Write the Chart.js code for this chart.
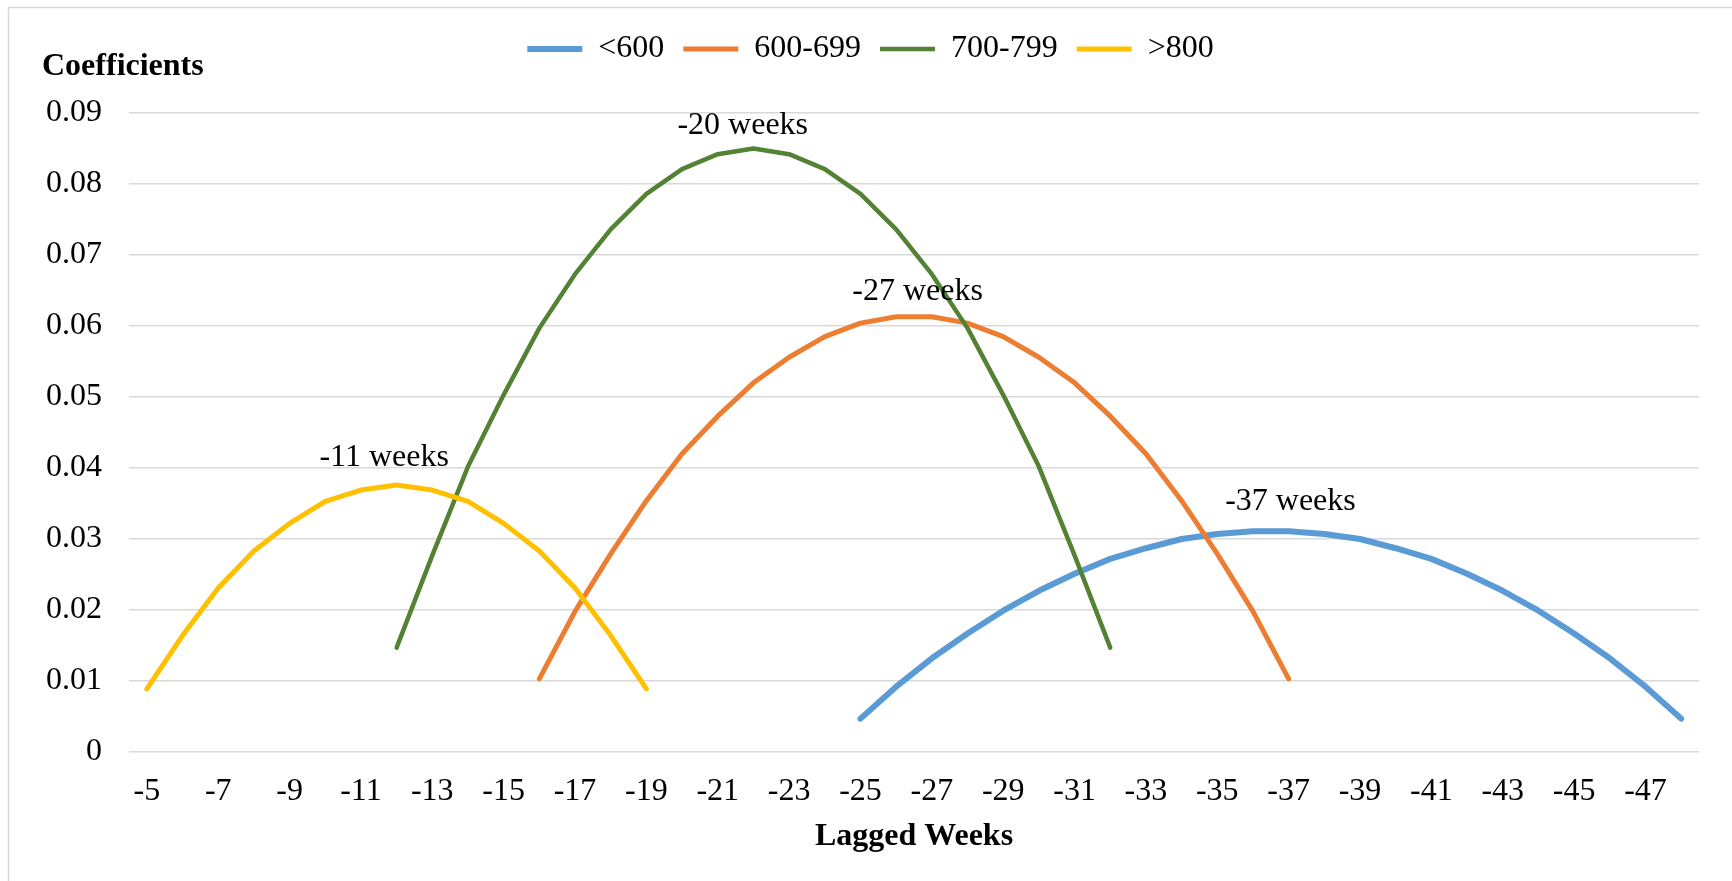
<!DOCTYPE html>
<html>
<head>
<meta charset="utf-8">
<title>Lagged weeks coefficients</title>
<script src="https://cdn.jsdelivr.net/npm/chart.js@4.4.1/dist/chart.umd.min.js"></script>
<style>
  html, body { margin: 0; padding: 0; background: #fff; }
  #wrap { width: 1732px; height: 881px; }
</style>
</head>
<body>
<div id="wrap"><canvas id="lagChart" width="1732" height="881"></canvas></div>
<script>
// categories: lagged weeks
const weeks = [-5, -6, -7, -8, -9, -10, -11, -12, -13, -14, -15, -16, -17, -18, -19, -20,
  -21, -22, -23, -24, -25, -26, -27, -28, -29, -30, -31, -32, -33, -34, -35, -36,
  -37, -38, -39, -40, -41, -42, -43, -44, -45, -46, -47, -48];

const seriesNames = ["<600", "600-699", "700-799", ">800"];
const seriesColors = ["#5B9BD5", "#ED7D31", "#548235", "#FFC000"];
const seriesWidths = [6, 5, 4.5, 5];
const seriesStart = [-25, -16, -12, -5];  // first week of each curve

const under600 = [0.0047, 0.0092, 0.0132, 0.0167, 0.0199, 0.0227, 0.0251, 0.0272, 0.0287, 0.0300,
  0.0307, 0.0311, 0.0311, 0.0307, 0.0300, 0.0287, 0.0272, 0.0251, 0.0227, 0.0199,
  0.0167, 0.0132, 0.0092, 0.0047];
const s600to699 = [0.0103, 0.0198, 0.0279, 0.0354, 0.0420, 0.0473, 0.0520, 0.0556, 0.0585, 0.0604,
  0.0613, 0.0613, 0.0604, 0.0585, 0.0556, 0.0520, 0.0473, 0.0420, 0.0354, 0.0279,
  0.0198, 0.0103];
const s700to799 = [0.0147, 0.0277, 0.0402, 0.0503, 0.0597, 0.0673, 0.0736, 0.0786, 0.0821, 0.0842,
  0.0850, 0.0842, 0.0821, 0.0786, 0.0736, 0.0673, 0.0597, 0.0503, 0.0402, 0.0277, 0.0147];
const over800 = [0.0089, 0.0164, 0.0231, 0.0283, 0.0322, 0.0353, 0.0369, 0.0376, 0.0369, 0.0353,
  0.0322, 0.0283, 0.0231, 0.0164, 0.0089];

// peak call-outs (text, week position, height in coefficient units)
const peakText = ["-11 weeks", "-20 weeks", "-27 weeks", "-37 weeks"];
const peakWeek = [-11.65, -21.7, -26.6, -37.05];
const peakValue = [0.0415, 0.0882, 0.0649, 0.0353];

const FONT = "'Liberation Serif', 'Times New Roman', serif";
const FONT_SIZE = 32;

function padSeries(values, startWeek) {
  const out = weeks.map(() => null);
  const offset = weeks.indexOf(startWeek);
  values.forEach((v, i) => { out[offset + i] = v; });
  return out;
}

const allValues = [under600, s600to699, s700to799, over800];

const datasets = seriesNames.map((name, i) => ({
  label: name,
  data: padSeries(allValues[i], seriesStart[i]),
  borderColor: seriesColors[i],
  backgroundColor: seriesColors[i],
  borderWidth: seriesWidths[i],
  borderCapStyle: "round",
  borderJoinStyle: "round",
  pointRadius: 0,
  pointHoverRadius: 0,
  tension: 0,
  spanGaps: false,
  order: seriesNames.length - i   // later series on top, like the original
}));

// border frame and white background
const frame = {
  id: "frame",
  beforeDraw(chart) {
    const ctx = chart.ctx;
    ctx.save();
    ctx.fillStyle = "#fff";
    ctx.fillRect(0, 0, chart.width, chart.height);
    ctx.strokeStyle = "#D9D9D9";
    ctx.lineWidth = 1.5;
    ctx.beginPath();
    ctx.moveTo(8.5, chart.height);
    ctx.lineTo(8.5, 7.5);
    ctx.lineTo(chart.width, 7.5);
    ctx.stroke();
    ctx.restore();
  }
};

// push the plot down below the legend
const legendGap = {
  id: "legendGap",
  beforeInit(chart) {
    const fit = chart.legend.fit;
    chart.legend.fit = function () {
      fit.bind(chart.legend)();
      this.height += 38;
    };
  }
};

// peak labels and the horizontal y-axis caption
const callouts = {
  id: "callouts",
  afterDatasetsDraw(chart) {
    const { ctx, scales: { x, y }, chartArea } = chart;
    ctx.save();
    ctx.fillStyle = "#000";
    ctx.textAlign = "center";
    ctx.textBaseline = "middle";
    ctx.font = FONT_SIZE + "px " + FONT;
    peakText.forEach((t, i) => {
      ctx.fillText(t, x.getPixelForValue(weeks[0] - peakWeek[i]), y.getPixelForValue(peakValue[i]));
    });
    ctx.textAlign = "left";
    ctx.font = "bold " + FONT_SIZE + "px " + FONT;
    ctx.fillText("Coefficients", chartArea.left - 87, chartArea.top - 46);
    ctx.restore();
  }
};

Chart.defaults.font.family = FONT;
Chart.defaults.font.size = FONT_SIZE;
Chart.defaults.color = "#000";

new Chart(document.getElementById("lagChart"), {
  type: "line",
  data: { labels: weeks, datasets: datasets },
  options: {
    responsive: false,
    animation: false,
    layout: { padding: { left: 42, right: 33, top: 14, bottom: 20 } },
    plugins: {
      legend: {
        position: "top",
        labels: {
          usePointStyle: true,
          pointStyle: "line",
          pointStyleWidth: 55,
          padding: 19,
          sort: (a, b) => a.datasetIndex - b.datasetIndex
        }
      },
      tooltip: { enabled: false }
    },
    scales: {
      x: {
        offset: true,
        afterFit: (s) => { s.height = 109; },
        grid: { display: false, drawTicks: false },
        border: { display: false },
        ticks: {
          autoSkip: false,
          maxRotation: 0,
          padding: 20,
          callback: function (val, idx) { return idx % 2 === 0 ? this.getLabelForValue(val) : ""; }
        },
        title: {
          display: true,
          text: "Lagged Weeks",
          font: { weight: "bold" },
          padding: { top: 4, bottom: 5 }
        }
      },
      y: {
        min: 0,
        max: 0.09,
        afterFit: (s) => { s.width = 87; },
        grid: { color: "#D9D9D9", lineWidth: 1.5, drawTicks: false },
        border: { display: false },
        ticks: {
          stepSize: 0.01,
          padding: 27,
          callback: (v) => (v === 0 ? "0" : v.toFixed(2))
        }
      }
    }
  },
  plugins: [frame, legendGap, callouts]
});
</script>
</body>
</html>
